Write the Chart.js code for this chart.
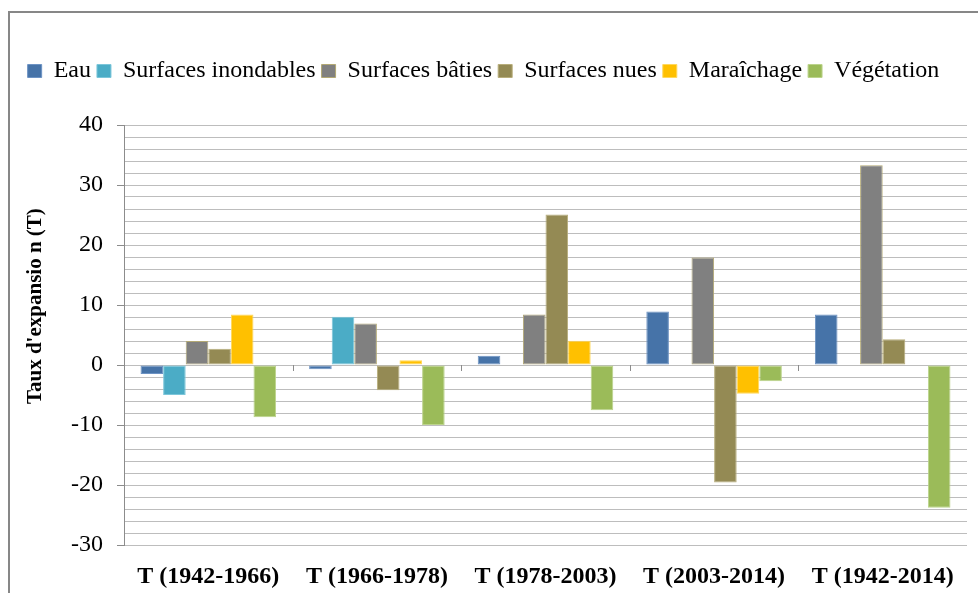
<!DOCTYPE html>
<html>
<head>
<meta charset="utf-8">
<script src="https://cdn.jsdelivr.net/npm/chart.js@4/dist/chart.umd.min.js"></script>
<style>
  html, body { margin: 0; padding: 0; background: #fff; overflow: hidden; }
  #cadre { position: absolute; left: 8px; top: 11px; width: 2000px; height: 2000px;
           border-left: 2px solid #878787; border-top: 2px solid #878787; }
  #graphique { position: absolute; left: 0; top: 0; }
</style>
</head>
<body>
<div id="cadre"></div>
<canvas id="graphique" width="978" height="593"></canvas>
<script>
// Périodes et taux d'expansion par type d'occupation du sol
const periodes = ['T (1942-1966)', 'T (1966-1978)', 'T (1978-2003)', 'T (2003-2014)', 'T (1942-2014)'];
const eau = [-1.5, -0.7, 1.55, 8.9, 8.4];
const inondables = [-5.0, 8.05, 0, 0, 0];
const baties = [4.0, 6.9, 8.4, 17.9, 33.3];
const nues = [2.7, -4.2, 25.1, -19.6, 4.3];
const maraichage = [8.4, 0.8, 4.05, -4.8, 0];
const vegetation = [-8.7, -10.0, -7.55, -2.7, -23.8];
const yMin = -30, yMax = 40, yPas = 2, yLabelPas = 10;

const police = 'Liberation Serif, Times New Roman, serif';

function serie(label, data, fond, bord) {
  return {
    label: label,
    data: data,
    backgroundColor: fond,
    borderColor: bord,
    borderWidth: ctx => (ctx.raw === 0 ? 0 : 1),
    borderSkipped: false,
    categoryPercentage: 0.804,
    barPercentage: 1.0
  };
}

// hauteur fixe pour la légende (espace jusqu'à la zone de tracé)
const legendeFixe = {
  id: 'legendeFixe',
  afterInit(chart) {
    const lg = chart.legend;
    if (!lg) return;
    const fit = lg.fit.bind(lg);
    lg.fit = function () {
      fit();
      this.height = 72;
    };
  }
};

// petites graduations sur la ligne du zéro, entre les catégories
const gradZero = {
  id: 'gradZero',
  afterDraw(chart) {
    const x = chart.scales.x, y = chart.scales.y;
    const c = chart.ctx;
    const y0 = y.getPixelForValue(0);
    const larg = (x.getPixelForValue(1) - x.getPixelForValue(0));
    c.save();
    c.strokeStyle = '#8c8c8c';
    c.lineWidth = 1;
    for (let i = 1; i < periodes.length; i++) {
      const px = Math.round(x.getPixelForValue(i) - larg / 2) + 0.5;
      c.beginPath();
      c.moveTo(px, y0);
      c.lineTo(px, y0 + 6);
      c.stroke();
    }
    c.restore();
  }
};

new Chart(document.getElementById('graphique'), {
  type: 'bar',
  data: {
    labels: periodes,
    datasets: [
      serie('Eau', eau, '#4673a8', '#6d93c4'),
      serie('Surfaces inondables', inondables, '#4bacc6', '#7cc6da'),
      serie('Surfaces bâties', baties, '#808080', '#b3a974'),
      serie('Surfaces nues', nues, '#948a54', '#b8ae7c'),
      serie('Maraîchage', maraichage, '#ffc000', '#ffd85c'),
      serie('Végétation', vegetation, '#9bbb59', '#bcd48c')
    ]
  },
  options: {
    responsive: false,
    animation: false,
    layout: { padding: { top: 53, right: 11, bottom: 0, left: 0 } },
    plugins: {
      tooltip: { enabled: false },
      legend: {
        position: 'top',
        align: 'center',
        labels: {
          boxWidth: 14,
          boxHeight: 13,
          padding: 6,
          color: '#000',
          font: { family: police, size: 24 }
        }
      }
    },
    scales: {
      x: {
        grid: { display: false, drawTicks: false },
        border: { display: false },
        ticks: {
          color: '#000',
          padding: 17,
          maxRotation: 0,
          font: { family: police, size: 24, weight: 'bold' }
        },
        afterFit(s) { s.height = 48; }
      },
      y: {
        min: yMin,
        max: yMax,
        grid: {
          color: '#bdbdbd',
          lineWidth: 1,
          tickLength: 7,
          tickColor: ctx => (ctx.tick && ctx.tick.value % yLabelPas === 0 ? '#8c8c8c' : 'rgba(0,0,0,0)')
        },
        border: { display: true, color: '#8c8c8c', width: 1 },
        ticks: {
          stepSize: yPas,
          autoSkip: false,
          maxTicksLimit: 100,
          padding: 14,
          color: '#000',
          font: { family: police, size: 24 },
          callback: v => (v % yLabelPas === 0 ? String(v) : '')
        },
        title: {
          display: true,
          // espaces en tête : le titre remonte un peu comme dans l'original
          text: '\u00a0'.repeat(11) + "Taux d'expansio n (T)",
          color: '#000',
          padding: { top: 23, bottom: 0 },
          font: { family: police, size: 21, weight: 'bold' }
        },
        afterFit(s) { s.width = 124; }
      }
    }
  },
  plugins: [legendeFixe, gradZero]
});
</script>
</body>
</html>
